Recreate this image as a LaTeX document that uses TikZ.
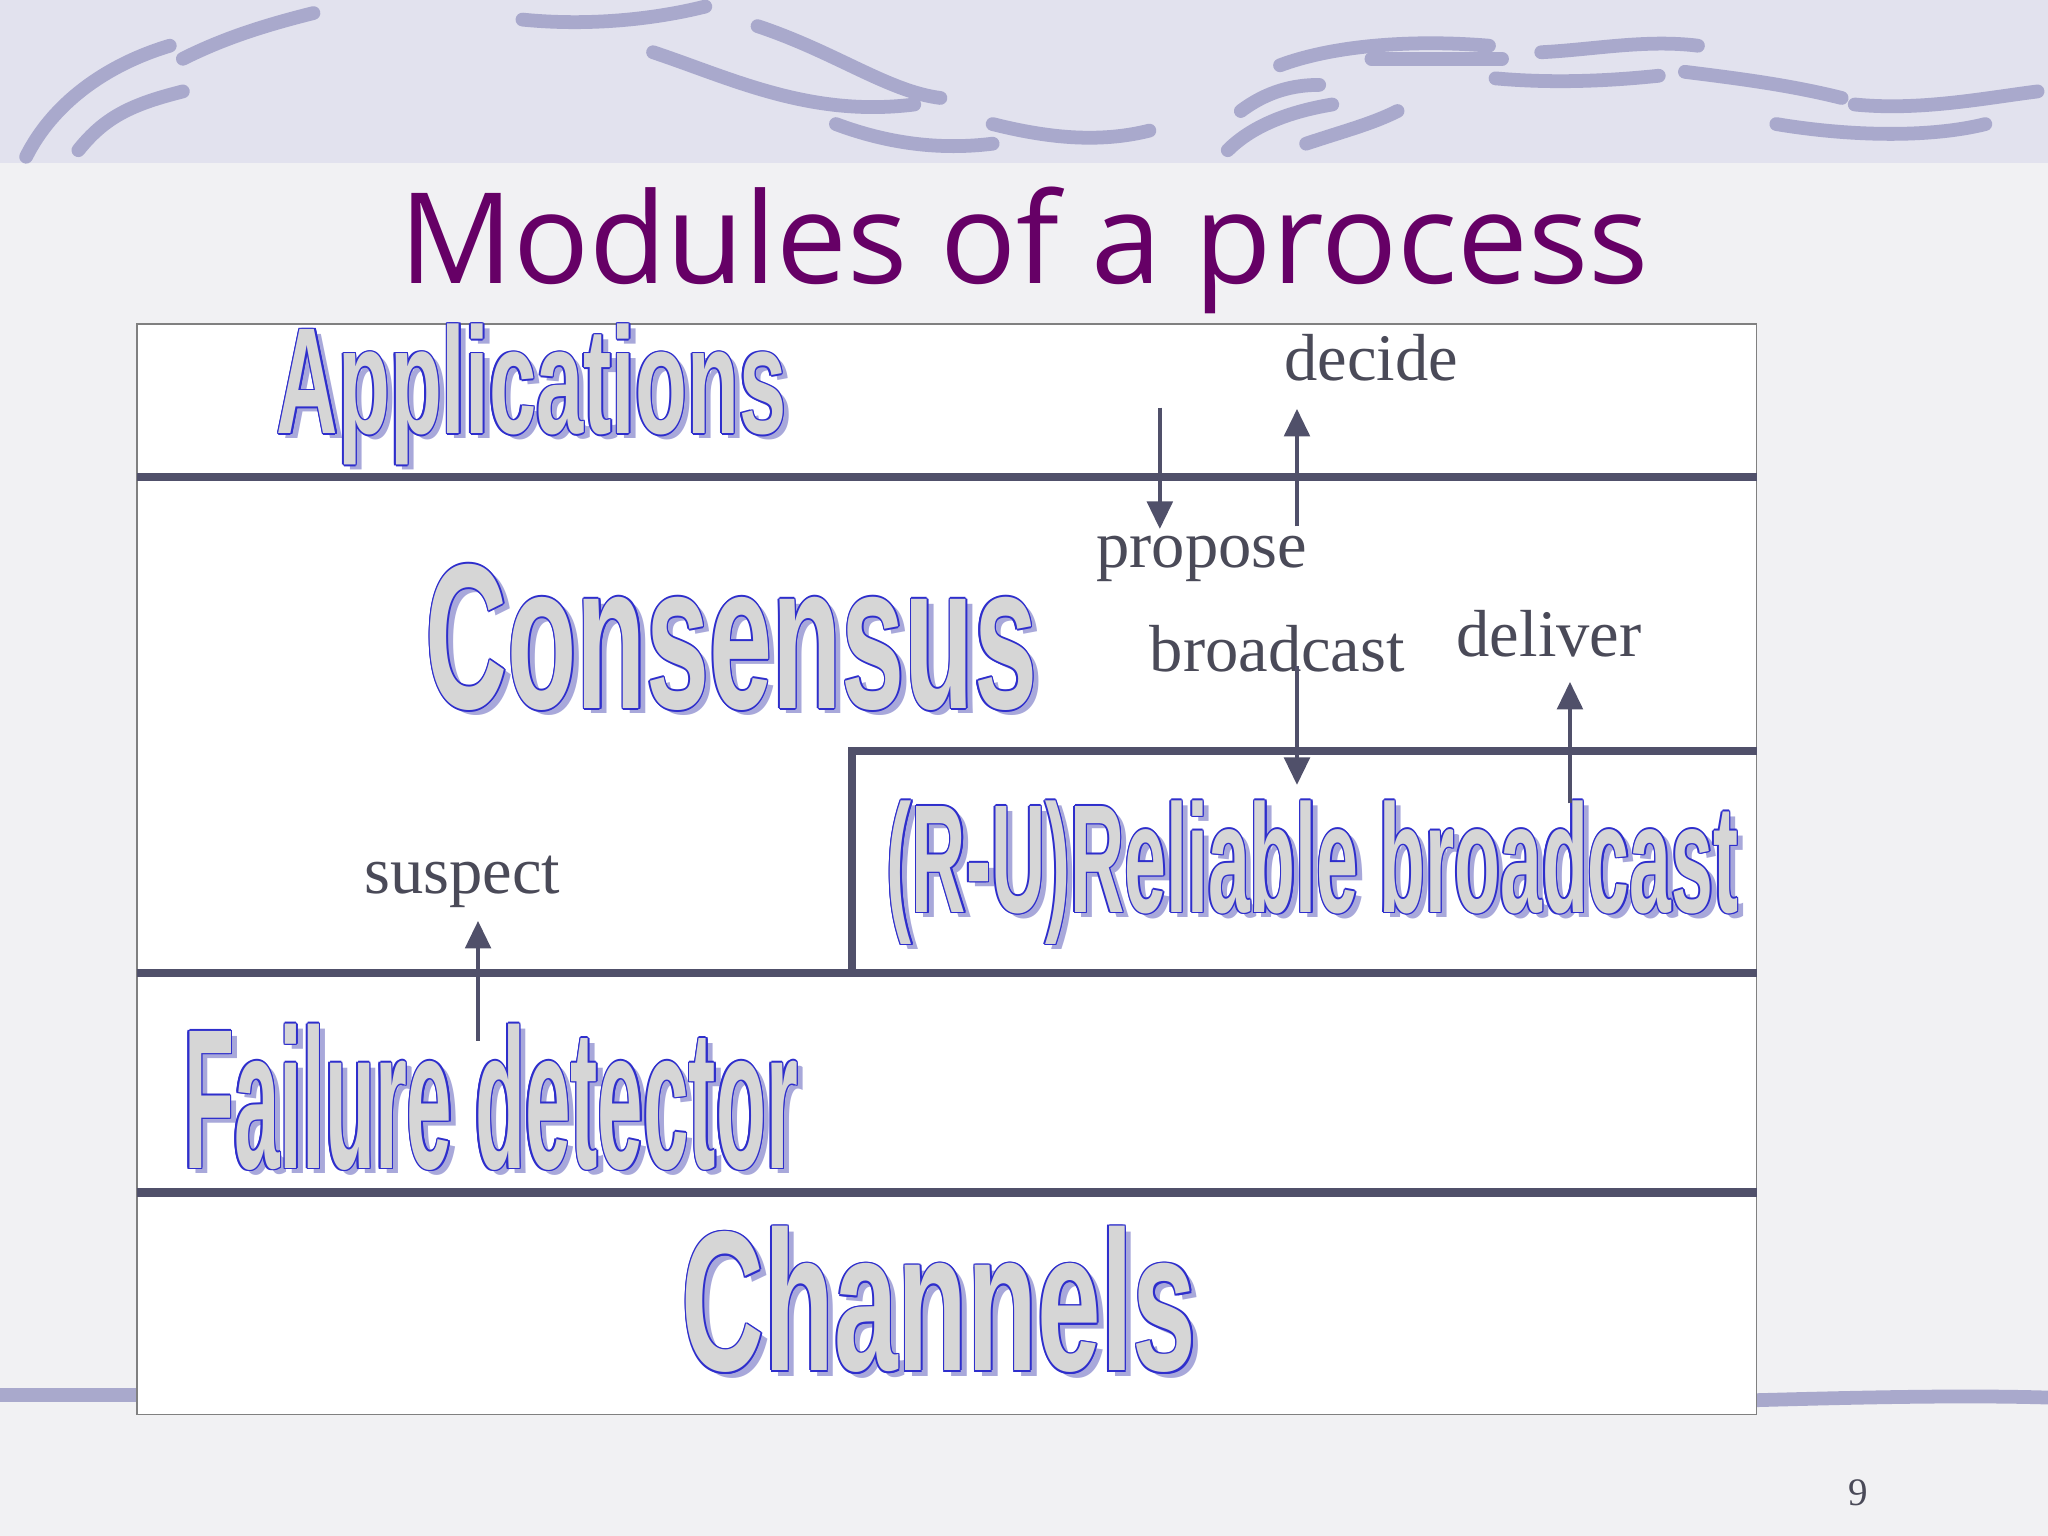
\documentclass[tikz,border=0pt]{standalone}
\usepackage{fontspec}
\setmainfont{Liberation Serif}
\newfontfamily\titlefont{Open Sans}
\newfontfamily\boldsans{Liberation Sans}
\usetikzlibrary{arrows.meta,calc}
\definecolor{bg}{HTML}{F1F1F3}
\definecolor{band}{HTML}{E2E2EE}
\definecolor{stroke}{HTML}{A9A9CC}
\definecolor{titlec}{HTML}{660066}
\definecolor{linec}{HTML}{50506A}
\definecolor{labc}{HTML}{4A4A58}
\definecolor{outl}{HTML}{2E2ECC}
\definecolor{shad}{HTML}{A8A8DA}
\definecolor{fillc}{HTML}{D6D6D6}
\tikzset{
  layer/.style={draw=linec,line width=3.5pt},
  arr/.style={draw=linec,line width=2pt,-{Triangle[length=12pt,width=11pt]}},
  lab/.style={text=labc,font=\fontsize{29}{30}\selectfont,inner sep=0pt},
  brush/.style={draw=stroke,line width=6pt,line cap=round},
}
% big outlined text: #1 center, #2 width, #3 height, #4 text, #5 name
\newcommand{\bigword}[5]{%
  \node[inner sep=0pt,text=shad] at ($#1+(5,4)$) {\resizebox*{#2}{#3}{\boldsans\bfseries #4}};
  \foreach \dx/\dy in {-1.2/0,1.2/0,0/-1.2,0/1.2,-0.9/-0.9,0.9/0.9,-0.9/0.9,0.9/-0.9}{\node[inner sep=0pt,text=outl] at ($#1+(\dx,\dy)$) {\resizebox*{#2}{#3}{\boldsans\bfseries #4}};}
  \node[inner sep=0pt,text=fillc] (#5) at #1 {\resizebox*{#2}{#3}{\boldsans\bfseries #4}};}
\begin{document}
\begin{tikzpicture}[x=0.02cm,y=-0.02cm]
\fill[bg] (0,0) rectangle (1568,1176);
\useasboundingbox (0,0) rectangle (1568,1176);
\fill[band] (0,0) rectangle (1568,125);
% brush strokes
\draw[brush] (20,120) .. controls (40,80) and (80,50) .. (130,35);
\draw[brush] (60,115) .. controls (80,90) and (100,80) .. (140,70);
\draw[brush] (140,45) .. controls (170,30) and (200,20) .. (240,10);
\draw[brush] (400,15) .. controls (450,20) and (500,15) .. (540,5);
\draw[brush] (500,40) .. controls (560,60) and (620,90) .. (700,80);
\draw[brush] (580,20) .. controls (640,40) and (680,70) .. (720,75);
\draw[brush] (640,95) .. controls (680,110) and (720,115) .. (760,110);
\draw[brush] (760,95) .. controls (800,105) and (840,110) .. (880,100);
\draw[brush] (940,115) .. controls (960,95) and (990,85) .. (1020,80);
\draw[brush] (950,85) .. controls (970,70) and (990,65) .. (1010,65);
\draw[brush] (1000,110) .. controls (1030,100) and (1050,95) .. (1070,85);
\draw[brush] (980,50) .. controls (1020,35) and (1080,30) .. (1140,35);
\draw[brush] (1050,45) .. controls (1090,45) and (1120,45) .. (1150,45);
\draw[brush] (1180,40) .. controls (1220,38) and (1260,30) .. (1300,35);
\draw[brush] (1145,60) .. controls (1200,65) and (1250,60) .. (1270,58);
\draw[brush] (1290,55) .. controls (1330,60) and (1370,65) .. (1410,75);
\draw[brush] (1360,95) .. controls (1420,105) and (1480,105) .. (1520,95);
\draw[brush] (1420,80) .. controls (1470,85) and (1520,75) .. (1560,70);
\draw[brush] (0,1068) -- (105,1068);
\draw[brush] (1345,1072) .. controls (1420,1070) and (1500,1068) .. (1568,1070);
% title
\node[text=titlec,font=\titlefont\fontsize{55}{58}\selectfont,inner sep=0pt] (title) at (784,192) {Modules of a process};
% box
\draw[fill=white,draw=gray,line width=0.6pt] (105,248) rectangle (1345,1083);
\draw[layer] (105,365) -- (1345,365);
\draw[layer] (1345,575) -- (652,575) -- (652,745);
\draw[layer] (105,745) -- (1345,745);
\draw[layer] (105,913) -- (1345,913);
% big words
\bigword{(407,302)}{7.8cm}{2.16cm}{Applications}{app}
\bigword{(560,488)}{9.36cm}{2.24cm}{Consensus}{cons}
\bigword{(1005,668)}{13.04cm}{2.2cm}{(R-U)Reliable broadcast}{rb}
\bigword{(376,840)}{9.4cm}{2.24cm}{Failure detector}{fd}
\bigword{(719,995)}{7.88cm}{2.24cm}{Channels}{ch}
% labels
\node[lab] (decide) at (1050,274) {decide};
\node[lab] (propose) at (920,428) {propose};
\node[lab] (broadcast) at (978,497) {broadcast};
\node[lab] (deliver) at (1186,485) {deliver};
\node[lab] (suspect) at (354,675) {suspect};
\node[text=labc,font=\fontsize{17}{18}\selectfont] (pg) at (1423,1143) {9};
% arrows
\coordinate (p1) at (888,312); \coordinate (p2) at (888,405);
\coordinate (d1) at (993,403); \coordinate (d2) at (993,313);
\coordinate (b1) at (993,510); \coordinate (b2) at (993,601);
\coordinate (v1) at (1202,615); \coordinate (v2) at (1202,522);
\coordinate (s1) at (366,797); \coordinate (s2) at (366,705);
\draw[arr] (p1) -- (p2);
\draw[arr] (d1) -- (d2);
\draw[arr] (b1) -- (b2);
\draw[arr] (v1) -- (v2);
\draw[arr] (s1) -- (s2);
\end{tikzpicture}
\end{document}
